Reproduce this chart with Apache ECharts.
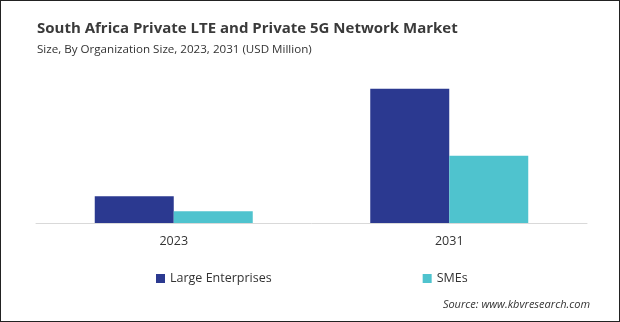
<!DOCTYPE html>
<html>
<head>
<meta charset="utf-8">
<script src="https://cdn.jsdelivr.net/npm/echarts@6/dist/echarts.min.js"></script>
<style>
html,body{margin:0;padding:0;background:#fff;}
#c{width:620px;height:322px;box-sizing:border-box;border:1px solid #222;}
</style>
</head>
<body>
<div id="c"></div>
<script>
const titleText = 'South Africa Private LTE and Private 5G Network Market';
const subtitleText = 'Size, By Organization Size, 2023, 2031 (USD Million)';
const sourceText = 'Source: www.kbvresearch.com';
const categories = ['2023', '2031'];
const seriesNames = ['Large Enterprises', 'SMEs'];
const largeEnterprises = [27, 136];
const smes = [12, 68];
const colors = ['#2B3990', '#4FC3CE'];

const chart = echarts.init(document.getElementById('c'), null, {renderer: 'canvas'});
chart.setOption({
  animation: false,
  color: colors,
  title: [
    {text: titleText, left: 31, top: 15, textStyle: {fontFamily: 'Open Sans', fontWeight: 'bold', fontSize: 15, color: '#3a3a3a'}},
    {text: subtitleText, left: 31, top: 38, textStyle: {fontFamily: 'Open Sans', fontWeight: 'normal', fontSize: 11.6, color: '#333'}},
    {text: sourceText, right: 24, top: 293, textStyle: {fontFamily: 'Open Sans', fontStyle: 'italic', fontWeight: 'normal', fontSize: 11, color: '#333'}}
  ],
  legend: {
    data: seriesNames,
    top: 266,
    left: 150,
    itemGap: 151,
    itemWidth: 9, itemHeight: 9,
    icon: 'rect',
    textStyle: {fontFamily: 'Open Sans', fontSize: 12.5, color: '#333'}
  },
  grid: {left: 35, right: 32, top: 60, bottom: 98},
  xAxis: {
    type: 'category',
    data: categories,
    axisLine: {lineStyle: {color: '#d9d9d9', width: 1}},
    axisTick: {show: false},
    axisLabel: {fontFamily: 'Open Sans', fontSize: 12.5, color: '#333', margin: 12}
  },
  yAxis: {
    type: 'value', min: 0, max: 164,
    show: false,
    splitLine: {show: false}
  },
  series: [
    {name: seriesNames[0], type: 'bar', data: largeEnterprises, barWidth: 79, barGap: '0%'},
    {name: seriesNames[1], type: 'bar', data: smes, barWidth: 79, barGap: '0%'}
  ]
});
</script>
</body>
</html>
